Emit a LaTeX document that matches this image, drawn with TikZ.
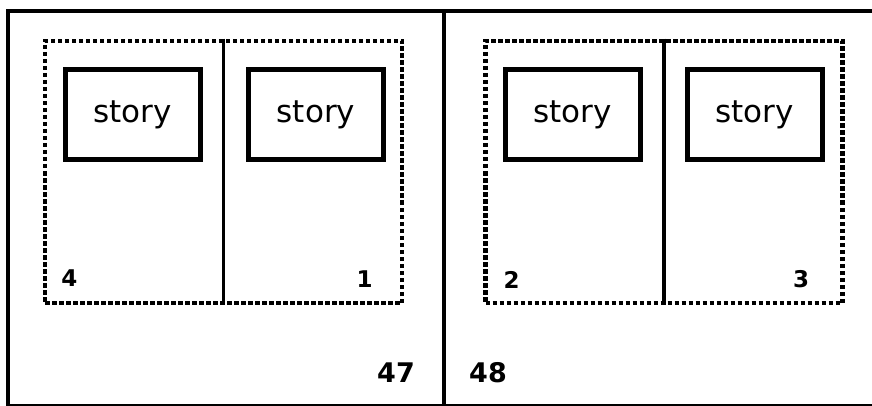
\documentclass[tikz,border=0pt]{standalone}
\usepackage{fontspec}
\setmainfont{DejaVu Sans}
\begin{document}
\begin{tikzpicture}[x=1pt,y=-1pt,
  frame/.style={line width=4pt},
  dotbox/.style={draw,line width=4.5pt,dash pattern=on 4.5pt off 2.5pt,inner sep=0pt,minimum width=357pt,minimum height=262pt},
  storybox/.style={draw,line width=5pt,inner sep=0pt,minimum width=135pt,minimum height=90pt,font=\fontsize{31}{32}\selectfont},
  divider/.style={line width=3.5pt},
  pnum/.style={font=\bfseries\fontsize{23}{24}\selectfont,inner sep=0pt},
  bignum/.style={font=\bfseries\fontsize{27}{28}\selectfont,inner sep=0pt}]
\useasboundingbox (0,0) rectangle (872,406);
\fill[white] (0,0) rectangle (872,406);
% outer frame
\coordinate (tl) at (8,11);
\coordinate (tr) at (880,11);
\coordinate (bl) at (8,405.5);
\coordinate (br) at (880,405.5);
\coordinate (mt) at (444,11);
\coordinate (mb) at (444,406);
\draw[frame] (tr) -- (tl) -- (bl) -- (br);
\draw[frame] (mt) -- (mb);
% dotted spreads
\node[dotbox] (L) at (223.5,172) {};
\node[dotbox] (R) at (664,172) {};
\draw[divider] (L.north) -- (L.south);
\draw[divider] (R.north) -- (R.south);
% story boxes
\node[storybox] (s1) at (132.5,115) {story};
\node[storybox] (s2) at (316,115) {story};
\node[storybox] (s3) at (572.5,115) {story};
\node[storybox] (s4) at (754.5,115) {story};
% page numbers
\node[pnum] (n4) at (69.5,278) {4};
\node[pnum] (n1) at (364.5,279) {1};
\node[pnum] (n2) at (511.5,279.5) {2};
\node[pnum] (n3) at (801,279) {3};
\node[bignum] (n47) at (396,372.5) {47};
\node[bignum] (n48) at (488,372.5) {48};
\end{tikzpicture}
\end{document}
